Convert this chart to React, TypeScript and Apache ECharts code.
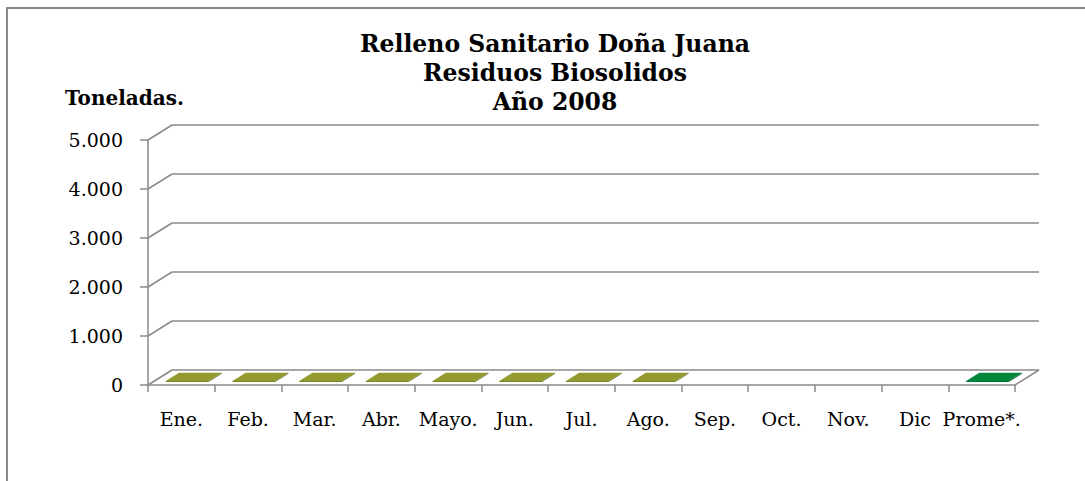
import React, { useEffect, useRef } from "react";
import * as echarts from "echarts";

const titleLines = ["Relleno Sanitario Doña Juana", "Residuos Biosolidos", "Año 2008"];
const yAxisTitle = "Toneladas.";
const categories = ["Ene.", "Feb.", "Mar.", "Abr.", "Mayo.", "Jun.", "Jul.", "Ago.", "Sep.", "Oct.", "Nov.", "Dic", "Prome*."];
const monthlyTons: (number | null)[] = [20, 20, 20, 20, 20, 20, 20, 20, null, null, null, null, null];
const averageTons: (number | null)[] = [null, null, null, null, null, null, null, null, null, null, null, null, 20];
const yTicks = [0, 1000, 2000, 3000, 4000, 5000];

const DX = 24;
const DY = -15;
const FONT = "DejaVu Serif";
const GRAY = "#8a8a8a";

const fmt = (v: number) => String(v).replace(/\B(?=(\d{3})+(?!\d))/g, ".");

function barRenderer(topColor: string, frontColor: string, sideColor: string) {
  return (params: any, api: any) => {
    const idx = api.value(0);
    const v = api.value(1);
    const base = api.coord([idx, 0]);
    const top = api.coord([idx, v]);
    const band = api.size([1, 0])[0];
    const w = band * 0.64;
    const x0 = base[0] - w / 2 + 1;
    const x1 = x0 + w;
    const d0 = 0.2;
    const d1 = 0.75;
    const yb = base[1];
    const yt = Math.min(top[1], yb - 0.5);
    return {
      type: "group",
      children: [
        {
          type: "polygon",
          shape: {
            points: [
              [x0 + d0 * DX, yt + d0 * DY],
              [x1 + d0 * DX, yt + d0 * DY],
              [x1 + d0 * DX, yb + d0 * DY],
              [x0 + d0 * DX, yb + d0 * DY],
            ],
          },
          style: { fill: frontColor },
        },
        {
          type: "polygon",
          shape: {
            points: [
              [x1 + d0 * DX, yt + d0 * DY],
              [x1 + d1 * DX, yt + d1 * DY],
              [x1 + d1 * DX, yb + d1 * DY],
              [x1 + d0 * DX, yb + d0 * DY],
            ],
          },
          style: { fill: sideColor },
        },
        {
          type: "polygon",
          shape: {
            points: [
              [x0 + d0 * DX, yt + d0 * DY],
              [x1 + d0 * DX, yt + d0 * DY],
              [x1 + d1 * DX, yt + d1 * DY],
              [x0 + d1 * DX, yt + d1 * DY],
            ],
          },
          style: { fill: topColor },
        },
      ],
    };
  };
}

export default function App() {
  const ref = useRef<HTMLDivElement>(null);
  useEffect(() => {
    if (!ref.current) return;
    const chart = echarts.init(ref.current, null, { renderer: "svg" });
    const option: any = {
      animation: false,
      backgroundColor: "#ffffff",
      title: {
        text: titleLines.join("\n"),
        left: 550,
        top: 24,
        textAlign: "center",
        textStyle: { fontFamily: FONT, fontSize: 23.5, fontWeight: "bold", color: "#000", lineHeight: 29 },
      },
      graphic: [
        {
          type: "rect",
          shape: { x: 7, y: 8, width: 1200, height: 600 },
          style: { fill: "none", stroke: GRAY, lineWidth: 2 },
          silent: true,
        },
        {
          type: "text",
          x: 65,
          y: 98,
          style: {
            text: yAxisTitle,
            fontFamily: FONT,
            fontSize: 20,
            fontWeight: "bold",
            fill: "#000",
            verticalAlign: "middle",
            align: "left",
          },
        },
      ],
      grid: [
        { left: 148, top: 140, width: 867, height: 245 },
        { left: 148 + DX, top: 140 + DY, width: 867, height: 245 },
      ],
      xAxis: [
        {
          type: "category",
          gridIndex: 0,
          data: categories,
          boundaryGap: true,
          axisLine: { show: true, lineStyle: { color: GRAY, width: 1.5 } },
          axisTick: { show: true, length: 7, interval: 0, lineStyle: { color: GRAY, width: 1.5 } },
          axisLabel: {
            interval: 0,
            hideOverlap: false,
            margin: 24,
            fontFamily: FONT,
            fontSize: 19,
            color: "#000",
          },
          splitLine: { show: false },
        },
        {
          type: "category",
          gridIndex: 1,
          data: categories,
          show: false,
        },
      ],
      yAxis: [
        {
          type: "value",
          gridIndex: 0,
          min: 0,
          max: 5000,
          interval: 1000,
          axisLine: { show: true, lineStyle: { color: GRAY, width: 1.5 } },
          axisTick: { show: true, length: 8, lineStyle: { color: GRAY, width: 1.5 } },
          axisLabel: {
            margin: 25,
            fontFamily: FONT,
            fontSize: 19,
            color: "#000",
            formatter: (v: number) => fmt(v),
          },
          splitLine: { show: false },
        },
        {
          type: "value",
          gridIndex: 1,
          min: 0,
          max: 5000,
          interval: 1000,
          axisLine: { show: false },
          axisTick: { show: false },
          axisLabel: { show: false },
          splitLine: { show: true, lineStyle: { color: GRAY, width: 1.5 } },
        },
      ],
      series: [
        {
          name: "Paredes",
          type: "custom",
          xAxisIndex: 0,
          yAxisIndex: 0,
          silent: true,
          data: yTicks.map((v) => [0, v]),
          renderItem: (params: any, api: any) => {
            const cs = params.coordSys;
            const y = api.coord([0, api.value(1)])[1];
            const children: any[] = [
              {
                type: "line",
                shape: { x1: cs.x, y1: y, x2: cs.x + DX, y2: y + DY },
                style: { stroke: GRAY, lineWidth: 1.5 },
              },
            ];
            if (api.value(1) === 0) {
              children.push({
                type: "line",
                shape: { x1: cs.x + cs.width, y1: y, x2: cs.x + cs.width + DX, y2: y + DY },
                style: { stroke: GRAY, lineWidth: 1.5 },
              });
            }
            return { type: "group", children };
          },
          z: 1,
        },
        {
          name: "Residuos Biosolidos",
          type: "custom",
          xAxisIndex: 0,
          yAxisIndex: 0,
          data: monthlyTons
            .map((v, i) => (v == null ? null : [i, v]))
            .filter((d) => d !== null),
          renderItem: barRenderer("#939b2f", "#7d8428", "#6b7122"),
          z: 3,
        },
        {
          name: "Promedio",
          type: "custom",
          xAxisIndex: 0,
          yAxisIndex: 0,
          data: averageTons
            .map((v, i) => (v == null ? null : [i, v]))
            .filter((d) => d !== null),
          renderItem: barRenderer("#00873c", "#007032", "#005e2a"),
          z: 3,
        },
      ],
    };
    chart.setOption(option);
    return () => chart.dispose();
  }, []);
  return (
    <div
      ref={ref}
      style={{ position: "fixed", left: 0, top: 0, width: 1085, height: 481, background: "#fff" }}
    />
  );
}
